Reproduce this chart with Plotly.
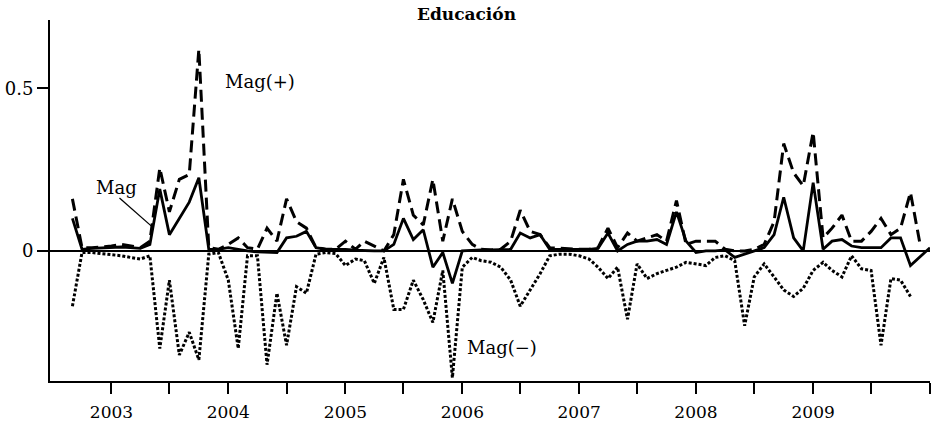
import pandas as pd
import plotly.graph_objects as go

# Monthly series, Sep 2002 - Jan 2010
start_month = "2002-09-01"
mag = [0.10, 0.005, 0.008, 0.01, 0.01, 0.012, 0.01, 0.008, 0.02, 0.19,
       0.05, 0.10, 0.15, 0.225, 0.005, 0.005, 0.01, 0.005, 0.0, -0.003,
       -0.005, -0.005, 0.04, 0.045, 0.06, 0.01, 0.005, 0.005, 0.005, 0.002,
       0.0, 0.0, 0.0, 0.02, 0.10, 0.035, 0.065, -0.05, -0.005, -0.10,
       0.0, 0.002, 0.003, 0.003, 0.003, 0.005, 0.055, 0.04, 0.05, 0.005,
       0.005, 0.005, 0.005, 0.005, 0.008, 0.055, 0.0, 0.02, 0.03, 0.03,
       0.035, 0.02, 0.12, 0.03, -0.005, 0.0, 0.0, 0.003, -0.02, -0.01,
       0.0, 0.01, 0.05, 0.165, 0.04, 0.0, 0.21, 0.005, 0.03, 0.035,
       0.015, 0.01, 0.01, 0.01, 0.04, 0.04, -0.045, -0.018, 0.01]
mag_pos = [0.16, 0.01, 0.01, 0.012, 0.015, 0.02, 0.015, 0.01, 0.03, 0.255,
           0.12, 0.22, 0.235, 0.62, 0.01, 0.005, 0.02, 0.04, 0.01, 0.005,
           0.07, 0.03, 0.16, 0.09, 0.07, 0.01, 0.005, 0.005, 0.03, 0.005,
           0.03, 0.015, 0.0, 0.05, 0.22, 0.11, 0.08, 0.22, 0.03, 0.16,
           0.06, 0.02, 0.005, 0.003, 0.005, 0.03, 0.125, 0.06, 0.05, 0.01,
           0.008, 0.005, 0.005, 0.005, 0.01, 0.07, 0.01, 0.055, 0.03, 0.04,
           0.05, 0.03, 0.155, 0.02, 0.03, 0.03, 0.03, 0.005, 0.0, 0.0,
           0.005, 0.02, 0.09, 0.33, 0.24, 0.2, 0.365, 0.04, 0.07, 0.11,
           0.03, 0.03, 0.06, 0.10, 0.05, 0.07, 0.18, 0.02, None]
mag_neg = [-0.17, -0.005, -0.005, -0.008, -0.01, -0.015, -0.02, -0.025, -0.015, -0.30,
           -0.09, -0.32, -0.25, -0.335, -0.01, -0.005, -0.09, -0.30, -0.015, -0.015,
           -0.35, -0.13, -0.29, -0.11, -0.13, -0.01, -0.005, -0.008, -0.045, -0.025,
           -0.03, -0.10, -0.02, -0.18, -0.18, -0.09, -0.15, -0.22, -0.06, -0.39,
           -0.05, -0.02, -0.03, -0.035, -0.05, -0.09, -0.17, -0.12, -0.07, -0.015,
           -0.01, -0.01, -0.015, -0.025, -0.05, -0.085, -0.05, -0.21, -0.04, -0.085,
           -0.07, -0.06, -0.05, -0.035, -0.04, -0.045, -0.02, -0.015, -0.03, -0.23,
           -0.08, -0.04, -0.08, -0.12, -0.14, -0.115, -0.06, -0.035, -0.06, -0.08,
           -0.015, -0.055, -0.06, -0.29, -0.085, -0.09, -0.14, None, None]

tick_dates = [f"{y}-{m:02d}-01" for y in range(2003, 2010) for m in (1, 7)] + ["2010-01-01"]
tick_labels = [str(y) if m == 1 else "" for y in range(2003, 2010) for m in (1, 7)] + [""]
y_ticks = [0, 0.5]
y_labels = ["0", "0.5"]

months = pd.date_range(start_month, periods=len(mag), freq="MS")
font = "DejaVu Serif"

fig = go.Figure()
fig.add_trace(go.Scatter(x=months, y=mag_neg, mode="lines", name="Mag(−)",
                         line=dict(color="black", width=3, dash="3px,2px")))
fig.add_trace(go.Scatter(x=months, y=mag_pos, mode="lines", name="Mag(+)",
                         line=dict(color="black", width=3, dash="12px,6px")))
fig.add_trace(go.Scatter(x=months, y=mag, mode="lines", name="Mag",
                         line=dict(color="black", width=2.8)))

# zero line
fig.add_hline(y=0, line=dict(color="black", width=2))

# labels
fig.add_annotation(x="2003-01-16", y=0.194, text="Mag", showarrow=False,
                   font=dict(family=font, size=18, color="black"))
fig.add_annotation(x="2004-04-10", y=0.52, text="Mag(+)", showarrow=False,
                   font=dict(family=font, size=18, color="black"))
fig.add_annotation(x="2006-05-05", y=-0.298, text="Mag(−)", showarrow=False,
                   font=dict(family=font, size=18, color="black"))
fig.add_shape(type="line", x0="2003-01-26", y0=0.163, x1="2003-05-05", y1=0.077,
              line=dict(color="black", width=1.3))

fig.update_layout(
    width=933, height=430,
    margin=dict(l=50, r=3, t=20, b=49),
    paper_bgcolor="white", plot_bgcolor="white",
    showlegend=False,
    title=dict(text="<b>Educación</b>", x=0.5, xref="container", xanchor="center",
               y=1 - 14 / 430, yref="container", yanchor="middle",
               font=dict(family=font, size=17, color="black")),
    font=dict(family=font, size=18, color="black"),
)
fig.update_xaxes(range=["2002-06-23", "2010-01-01"], showgrid=False, zeroline=False,
                 showline=True, linecolor="black", linewidth=2,
                 ticks="outside", ticklen=11, tickwidth=2, tickcolor="black",
                 tickvals=tick_dates, ticktext=tick_labels, ticklabelstandoff=4,
                 tickfont=dict(family=font, size=17))
fig.update_yaxes(range=[-0.40, 0.71], showgrid=False, zeroline=False,
                 showline=True, linecolor="black", linewidth=2,
                 ticks="outside", ticklen=11, tickwidth=2, tickcolor="black",
                 tickvals=y_ticks, ticktext=y_labels,
                 tickfont=dict(family=font, size=18))

fig.write_html("out.html", config={"displayModeBar": False},
               post_script="document.body.style.margin='0';document.body.style.padding='0';")
